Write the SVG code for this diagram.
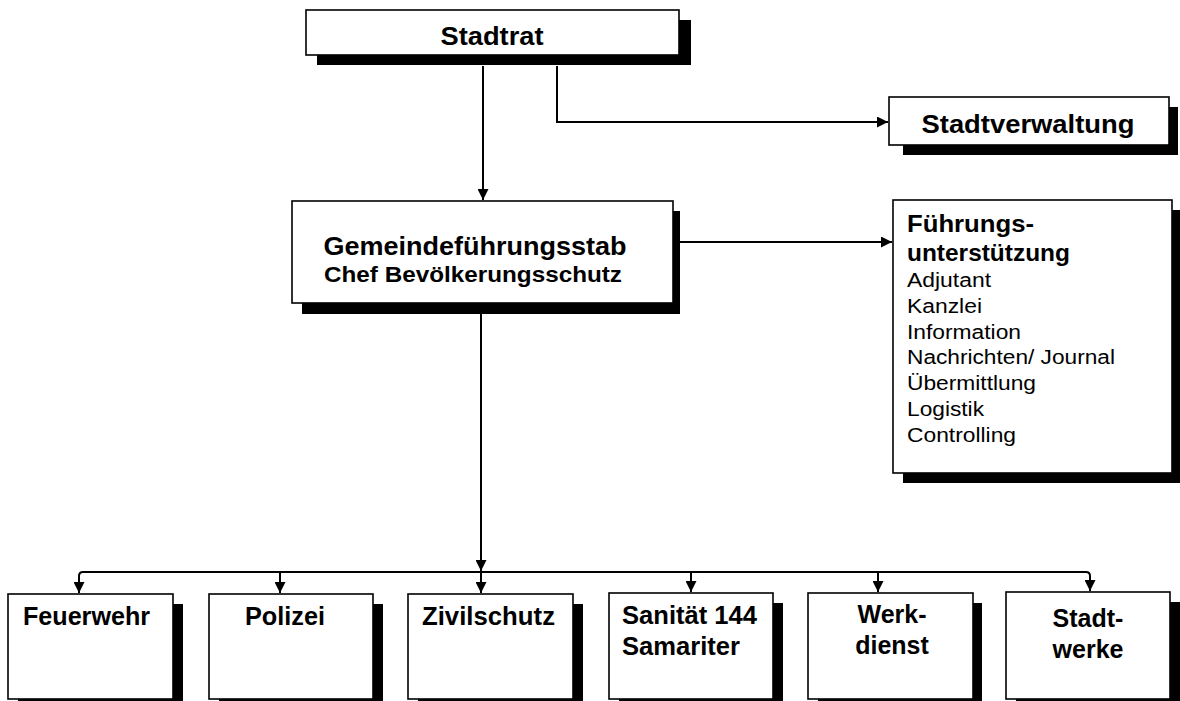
<svg xmlns="http://www.w3.org/2000/svg" width="1180" height="701" viewBox="0 0 1180 701">
<style>
.box{fill:#fff;stroke:#000;stroke-width:1.6}
.sh{fill:#000}
.t{font-family:"Liberation Sans",Arial,Helvetica,sans-serif;font-weight:bold;fill:#000}
.m{text-anchor:middle}
.r{font-family:"Liberation Sans",Arial,Helvetica,sans-serif;font-weight:normal;font-size:20px;fill:#000}
.ln{fill:none;stroke:#000;stroke-width:2}
</style>
<defs>
<marker id="ah" viewBox="0 0 10 10" refX="10" refY="5" markerWidth="11" markerHeight="11" markerUnits="userSpaceOnUse" orient="auto">
<path d="M0,0 L10,5 L0,10 z" fill="#000"/>
</marker>
</defs>
<rect width="1180" height="701" fill="#fff"/>

<g id="connectors">
<path class="ln" d="M483,66 V200" marker-end="url(#ah)"/>
<path class="ln" d="M557,66 V122 H888" marker-end="url(#ah)"/>
<path class="ln" d="M680,242 H892" marker-end="url(#ah)"/>
<path class="ln" d="M481,314 V571" marker-end="url(#ah)"/>
<path class="ln" d="M79,593 V576 Q79,572 83,572 H1086 Q1090,572 1090,576 V591"/>
<path class="ln" d="M79,576 V593" marker-end="url(#ah)"/>
<path class="ln" d="M280,572 V593" marker-end="url(#ah)"/>
<path class="ln" d="M481,572 V593" marker-end="url(#ah)"/>
<path class="ln" d="M691,572 V592" marker-end="url(#ah)"/>
<path class="ln" d="M878,572 V592" marker-end="url(#ah)"/>
<path class="ln" d="M1090,576 V591" marker-end="url(#ah)"/>
</g>

<g id="stadtrat">
<rect class="sh" x="317" y="20" width="374" height="45"/>
<rect class="box" x="306" y="10" width="373" height="45"/>
<text class="t m" x="492" y="45" font-size="26" textLength="103" lengthAdjust="spacingAndGlyphs">Stadtrat</text>
</g>

<g id="stadtverwaltung">
<rect class="sh" x="903" y="107" width="275" height="48"/>
<rect class="box" x="889" y="97" width="280" height="48"/>
<text class="t m" x="1028" y="133" font-size="26" textLength="213" lengthAdjust="spacingAndGlyphs">Stadtverwaltung</text>
</g>

<g id="gemeindefuehrungsstab">
<rect class="sh" x="302" y="211" width="378" height="103"/>
<rect class="box" x="292" y="201" width="381" height="102"/>
<text class="t m" x="475" y="255" font-size="25" textLength="303" lengthAdjust="spacingAndGlyphs">Gemeindeführungsstab</text>
<text class="t m" x="473" y="282" font-size="22" textLength="298" lengthAdjust="spacingAndGlyphs">Chef Bevölkerungsschutz</text>
</g>

<g id="fuehrungsunterstuetzung">
<rect class="sh" x="903" y="210" width="277" height="273"/>
<rect class="box" x="893" y="200" width="279" height="273"/>
<text class="t" x="907" y="232" font-size="24" textLength="127" lengthAdjust="spacingAndGlyphs">Führungs-</text>
<text class="t" x="907" y="261" font-size="24" textLength="163" lengthAdjust="spacingAndGlyphs">unterstützung</text>
<text class="r" x="907" y="287" textLength="84" lengthAdjust="spacingAndGlyphs">Adjutant</text>
<text class="r" x="907" y="313" textLength="75" lengthAdjust="spacingAndGlyphs">Kanzlei</text>
<text class="r" x="907" y="339" textLength="114" lengthAdjust="spacingAndGlyphs">Information</text>
<text class="r" x="907" y="364" textLength="208" lengthAdjust="spacingAndGlyphs">Nachrichten/ Journal</text>
<text class="r" x="907" y="390" textLength="129" lengthAdjust="spacingAndGlyphs">Übermittlung</text>
<text class="r" x="907" y="416" textLength="77" lengthAdjust="spacingAndGlyphs">Logistik</text>
<text class="r" x="907" y="442" textLength="109" lengthAdjust="spacingAndGlyphs">Controlling</text>
</g>

<g id="feuerwehr">
<rect class="sh" x="18" y="604" width="165" height="100"/>
<rect class="box" x="8" y="594" width="165" height="105"/>
<text class="t" x="23" y="625" font-size="25" textLength="127" lengthAdjust="spacingAndGlyphs">Feuerwehr</text>
</g>

<g id="polizei">
<rect class="sh" x="219" y="604" width="164" height="100"/>
<rect class="box" x="209" y="594" width="164" height="105"/>
<text class="t m" x="285" y="625" font-size="25" textLength="80" lengthAdjust="spacingAndGlyphs">Polizei</text>
</g>

<g id="zivilschutz">
<rect class="sh" x="418" y="604" width="165" height="100"/>
<rect class="box" x="408" y="594" width="165" height="105"/>
<text class="t" x="422" y="625" font-size="25" textLength="133" lengthAdjust="spacingAndGlyphs">Zivilschutz</text>
</g>

<g id="sanitaet">
<rect class="sh" x="619" y="603" width="164" height="101"/>
<rect class="box" x="609" y="593" width="164" height="106"/>
<text class="t" x="622" y="624" font-size="25" textLength="135" lengthAdjust="spacingAndGlyphs">Sanität 144</text>
<text class="t" x="622" y="655" font-size="25" textLength="118" lengthAdjust="spacingAndGlyphs">Samariter</text>
</g>

<g id="werkdienst">
<rect class="sh" x="818" y="603" width="164" height="101"/>
<rect class="box" x="808" y="593" width="165" height="106"/>
<text class="t m" x="892" y="623" font-size="25">Werk-</text>
<text class="t m" x="892" y="654" font-size="25">dienst</text>
</g>

<g id="stadtwerke">
<rect class="sh" x="1016" y="602" width="164" height="102"/>
<rect class="box" x="1006" y="592" width="164" height="107"/>
<text class="t m" x="1088" y="627" font-size="25">Stadt-</text>
<text class="t m" x="1088" y="658" font-size="25">werke</text>
</g>
</svg>
